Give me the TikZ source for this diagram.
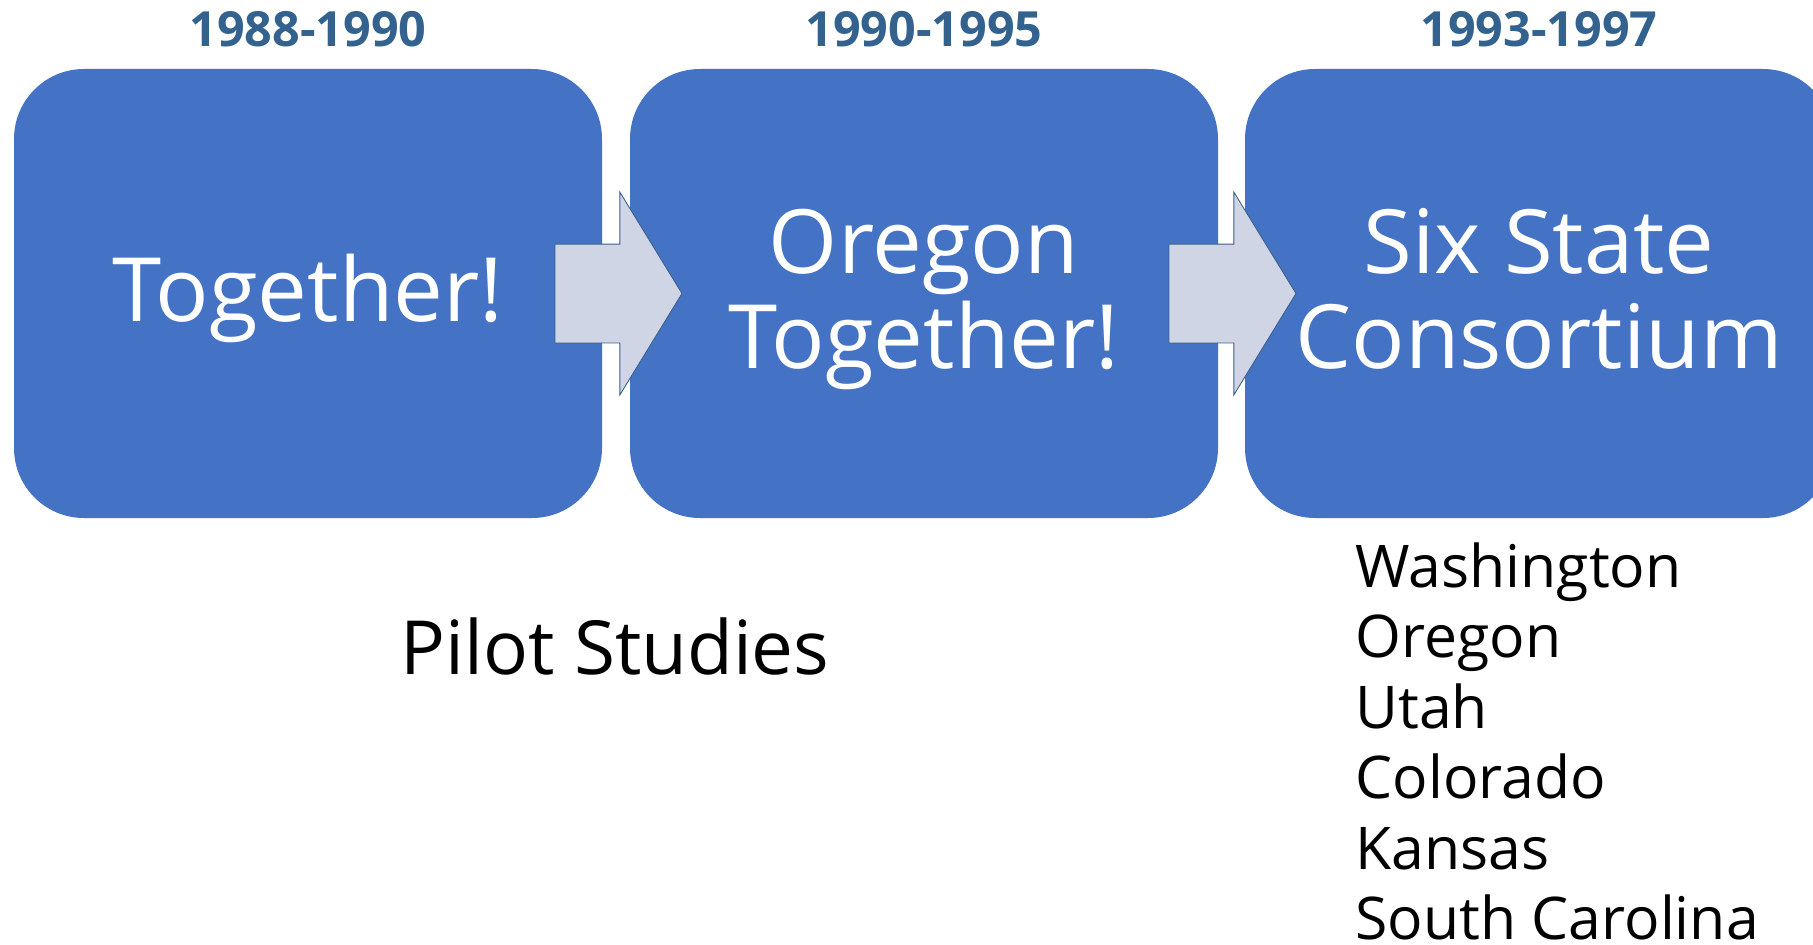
\documentclass[tikz,border=0pt]{standalone}
\usepackage{fontspec}
\setmainfont{Open Sans}
\usetikzlibrary{shapes,shapes.symbols,positioning,arrows.meta}
\definecolor{boxblue}{HTML}{4472C4}
\definecolor{yearblue}{HTML}{34628F}
\definecolor{arrowfill}{HTML}{CFD5E4}
\definecolor{arrowline}{HTML}{3B5F8C}
\newcommand{\stagetop}{\rule{0pt}{1.65cm}}

\begin{document}
\begin{tikzpicture}[line width=.6pt
  ]
\clip (0,0) rectangle (36.26,-18.88);
% Block and arrow styles
\tikzstyle{stage}=[fill=boxblue,text=white,align=center,rounded corners=1.4cm,minimum width=11.76cm,minimum height=8.98cm,inner sep=0pt,outer sep=0pt,font=\fontsize{50.5}{54}\selectfont,execute at end node={\rule[-.54cm]{0pt}{0pt}}]
\tikzstyle{flow}=[single arrow,draw=arrowline,fill=arrowfill,anchor=tail,inner sep=0pt,outer sep=0pt,text height=.98cm,text depth=.98cm,minimum height=2.54cm,single arrow head extend=1.04cm,single arrow tip angle=117,line width=.5pt]
\tikzstyle{year}=[text=yearblue,anchor=base,font=\fontsize{27.6}{32}\selectfont\bfseries]
\tikzstyle{state}=[anchor=base west,inner sep=0pt,font=\fontsize{33.5}{40}\selectfont]
% Blocks
\node[stage] (b1) at (6.16,-5.87) {\stagetop Together!};
\node[stage, right=.56cm of b1] (b2) {\stagetop Oregon\\Together!};
\node[stage, right=.54cm of b2] (b3) {\stagetop Six State\\Consortium};

% Arrows
\node[flow] (a1) at ([xshift=-.94cm]b1.east) {};
\node[flow] (a2) at ([xshift=-.98cm]b2.east) {};

% Years
\node[year] (y1) at ([yshift=.44cm]b1.north) {1988-1990};
\node[year] (y2) at ([yshift=.44cm]b2.north) {1990-1995};
\node[year] (y3) at ([yshift=.44cm]b3.north) {1993-1997};

% Notes below
\node[anchor=base,inner sep=0pt,font=\fontsize{42.5}{50}\selectfont] (ps) at ([xshift=.26cm,yshift=-3.12cm]b1.south east) {Pilot Studies};
\foreach \s [count=\i from 0] in {Washington,Oregon,Utah,Colorado,Kansas,South Carolina}
\node[state] (st\i) at ([xshift=2.2cm,yshift=-1.38cm-1.41cm*\i]b3.south west) {\s};
\end{tikzpicture}
\end{document}
